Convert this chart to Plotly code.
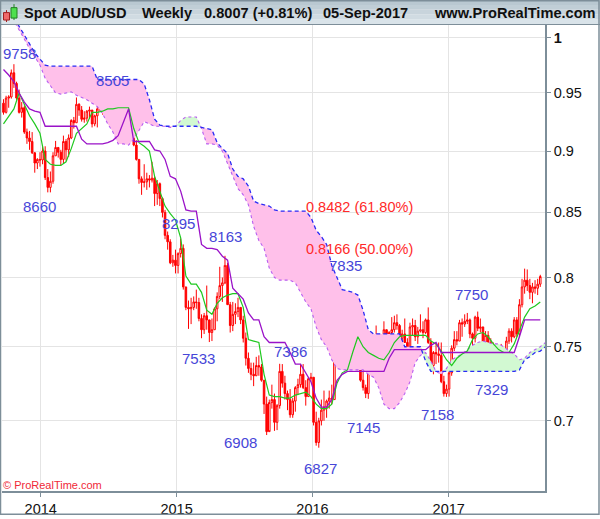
import numpy as np
import pandas as pd
import plotly.graph_objects as go

# ---------------- DATA ----------------
week_start = "2013-09-23"
opens = [0.9410,0.9330,0.9455,0.9465,0.9680,0.9585,0.9455,0.9330,0.9370,0.9160,
0.9110,0.9080,0.8985,0.8900,0.8930,0.8925,0.9000,0.8780,0.8700,0.8750,
0.8960,0.9030,0.8990,0.8930,0.9080,0.9010,0.9110,0.9260,0.9240,0.9400,
0.9350,0.9270,0.9280,0.9340,0.9350,0.9230,0.9300,0.9360,0.9410,0.9400,
0.9430,0.9340,0.9380,0.9370,0.9390,0.9300,0.9290,0.9320,0.9280,0.9340,
0.9390,0.9050,0.8930,0.8770,0.8740,0.8745,0.8770,0.8760,0.8775,0.8650,
0.8730,0.8610,0.8500,0.8320,0.8270,0.8110,0.8130,0.8090,0.8180,0.8220,
0.7930,0.7780,0.7770,0.7780,0.7820,0.7815,0.7700,0.7620,0.7720,0.7690,
0.7600,0.7620,0.7770,0.7860,0.7940,0.7960,0.8090,0.7800,0.7650,0.7730,
0.7750,0.7780,0.7690,0.7560,0.7420,0.7350,0.7310,0.7300,0.7370,0.7360,
0.7270,0.7110,0.6930,0.7120,0.7140,0.6990,0.7100,0.7330,0.7250,0.7180,
0.7140,0.7040,0.7130,0.7220,0.7240,0.7310,0.7220,0.7160,0.7280,0.7290,
0.6990,0.6860,0.7000,0.7070,0.7090,0.7130,0.7150,0.7140,0.7420,0.7520,
0.7620,0.7490,0.7660,0.7540,0.7690,0.7720,0.7650,0.7380,0.7270,0.7220,
0.7180,0.7380,0.7390,0.7420,0.7380,0.7480,0.7570,0.7620,0.7460,0.7600,
0.7620,0.7670,0.7650,0.7560,0.7590,0.7530,0.7490,0.7640,0.7650,0.7570,
0.7610,0.7620,0.7600,0.7690,0.7530,0.7370,0.7460,0.7450,0.7440,0.7260,
0.7180,0.7210,0.7320,0.7490,0.7550,0.7540,0.7670,0.7660,0.7680,0.7690,
0.7590,0.7560,0.7710,0.7630,0.7640,0.7510,0.7580,0.7530,0.7470,0.7410,
0.7380,0.7460,0.7470,0.7440,0.7540,0.7610,0.7570,0.7690,0.7590,0.7800,
0.7930,0.7980,0.7940,0.7890,0.7930,0.7920,0.7950]
highs = [0.9445,0.9475,0.9480,0.9710,0.9758,0.9600,0.9530,0.9420,0.9390,0.9190,
0.9170,0.9160,0.8990,0.8940,0.8990,0.9040,0.9040,0.8850,0.8830,0.8990,
0.9085,0.9030,0.9010,0.9130,0.9100,0.9140,0.9270,0.9290,0.9460,0.9410,
0.9385,0.9340,0.9350,0.9380,0.9350,0.9310,0.9380,0.9440,0.9410,0.9445,
0.9505,0.9400,0.9420,0.9420,0.9400,0.9320,0.9370,0.9330,0.9360,0.9400,
0.9390,0.9090,0.8930,0.8790,0.8890,0.8820,0.8800,0.8910,0.8790,0.8760,
0.8740,0.8620,0.8520,0.8350,0.8290,0.8170,0.8210,0.8190,0.8295,0.8250,
0.7930,0.7830,0.7850,0.7860,0.7910,0.7850,0.7730,0.7740,0.7940,0.7690,
0.7700,0.7780,0.7890,0.8080,0.8000,0.8163,0.8110,0.7820,0.7820,0.7810,
0.7850,0.7780,0.7720,0.7600,0.7460,0.7390,0.7390,0.7430,0.7440,0.7380,
0.7270,0.7160,0.7140,0.7240,0.7180,0.7110,0.7382,0.7380,0.7300,0.7200,
0.7210,0.7150,0.7230,0.7280,0.7380,0.7380,0.7270,0.7290,0.7320,0.7290,
0.7060,0.7020,0.7140,0.7200,0.7140,0.7200,0.7240,0.7460,0.7530,0.7680,
0.7640,0.7680,0.7670,0.7720,0.7835,0.7730,0.7670,0.7420,0.7330,0.7240,
0.7380,0.7500,0.7450,0.7650,0.7520,0.7580,0.7680,0.7620,0.7610,0.7710,
0.7720,0.7730,0.7660,0.7620,0.7700,0.7560,0.7670,0.7700,0.7690,0.7640,
0.7730,0.7680,0.7700,0.7780,0.7560,0.7470,0.7520,0.7530,0.7530,0.7300,
0.7240,0.7340,0.7510,0.7610,0.7610,0.7690,0.7700,0.7730,0.7740,0.7700,
0.7600,0.7720,0.7750,0.7700,0.7640,0.7610,0.7610,0.7560,0.7530,0.7420,
0.7470,0.7520,0.7480,0.7570,0.7630,0.7630,0.7710,0.7710,0.7840,0.7990,
0.8066,0.8060,0.7990,0.7960,0.7980,0.7990,0.8020]
lows = [0.9310,0.9320,0.9370,0.9450,0.9545,0.9440,0.9320,0.9285,0.9145,0.9060,
0.9010,0.8975,0.8820,0.8850,0.8870,0.8890,0.8760,0.8660,0.8660,0.8730,
0.8960,0.8945,0.8880,0.8900,0.8920,0.8950,0.9100,0.9190,0.9240,0.9300,
0.9250,0.9240,0.9250,0.9275,0.9200,0.9210,0.9200,0.9340,0.9310,0.9370,
0.9330,0.9320,0.9290,0.9340,0.9290,0.9240,0.9260,0.9260,0.9280,0.9310,
0.9040,0.8920,0.8730,0.8640,0.8700,0.8680,0.8700,0.8740,0.8550,0.8560,
0.8550,0.8460,0.8290,0.8210,0.8100,0.8080,0.8030,0.8030,0.8150,0.7910,
0.7760,0.7626,0.7660,0.7760,0.7770,0.7680,0.7560,0.7590,0.7620,0.7533,
0.7540,0.7620,0.7680,0.7840,0.7820,0.7950,0.7800,0.7600,0.7610,0.7660,
0.7710,0.7660,0.7530,0.7370,0.7320,0.7270,0.7230,0.7300,0.7300,0.7260,
0.7045,0.6908,0.6940,0.7080,0.6935,0.6940,0.7080,0.7220,0.7140,0.7070,
0.7020,0.7020,0.7060,0.7170,0.7220,0.7210,0.7100,0.7160,0.7260,0.6970,
0.6840,0.6827,0.6970,0.7000,0.7020,0.7080,0.7110,0.7140,0.7380,0.7490,
0.7480,0.7480,0.7490,0.7520,0.7640,0.7530,0.7370,0.7260,0.7200,0.7150,
0.7145,0.7370,0.7300,0.7300,0.7330,0.7390,0.7560,0.7450,0.7410,0.7570,
0.7600,0.7620,0.7530,0.7490,0.7530,0.7440,0.7490,0.7580,0.7540,0.7520,
0.7600,0.7560,0.7590,0.7520,0.7360,0.7310,0.7380,0.7390,0.7250,0.7160,
0.7158,0.7160,0.7300,0.7470,0.7510,0.7540,0.7570,0.7640,0.7660,0.7560,
0.7490,0.7530,0.7610,0.7600,0.7500,0.7490,0.7490,0.7460,0.7390,0.7329,
0.7370,0.7440,0.7370,0.7440,0.7520,0.7530,0.7560,0.7570,0.7570,0.7780,
0.7880,0.7900,0.7840,0.7810,0.7880,0.7870,0.7930]
closes = [0.9330,0.9455,0.9465,0.9680,0.9585,0.9455,0.9330,0.9370,0.9160,0.9110,
0.9080,0.8985,0.8900,0.8930,0.8925,0.9000,0.8780,0.8700,0.8750,0.8960,
0.9030,0.8990,0.8930,0.9080,0.9010,0.9110,0.9260,0.9240,0.9400,0.9350,
0.9270,0.9280,0.9340,0.9350,0.9230,0.9300,0.9360,0.9410,0.9400,0.9430,
0.9340,0.9380,0.9370,0.9390,0.9300,0.9290,0.9320,0.9280,0.9340,0.9390,
0.9050,0.8930,0.8770,0.8740,0.8745,0.8770,0.8760,0.8775,0.8650,0.8730,
0.8610,0.8500,0.8320,0.8270,0.8110,0.8130,0.8090,0.8180,0.8220,0.7930,
0.7780,0.7770,0.7780,0.7820,0.7815,0.7700,0.7620,0.7720,0.7690,0.7600,
0.7620,0.7770,0.7860,0.7940,0.7960,0.8090,0.7800,0.7650,0.7730,0.7750,
0.7780,0.7690,0.7560,0.7420,0.7350,0.7310,0.7300,0.7370,0.7360,0.7270,
0.7110,0.6930,0.7120,0.7140,0.6990,0.7100,0.7330,0.7250,0.7180,0.7140,
0.7040,0.7130,0.7220,0.7240,0.7310,0.7220,0.7160,0.7280,0.7290,0.6990,
0.6860,0.7000,0.7070,0.7090,0.7130,0.7150,0.7140,0.7420,0.7520,0.7620,
0.7490,0.7660,0.7540,0.7690,0.7720,0.7650,0.7380,0.7270,0.7220,0.7180,
0.7380,0.7390,0.7420,0.7380,0.7480,0.7570,0.7620,0.7460,0.7600,0.7620,
0.7670,0.7650,0.7560,0.7590,0.7530,0.7490,0.7640,0.7650,0.7570,0.7610,
0.7620,0.7600,0.7690,0.7530,0.7370,0.7460,0.7450,0.7440,0.7260,0.7180,
0.7210,0.7320,0.7490,0.7550,0.7540,0.7670,0.7660,0.7680,0.7690,0.7590,
0.7560,0.7710,0.7630,0.7640,0.7510,0.7580,0.7530,0.7470,0.7410,0.7380,
0.7460,0.7470,0.7440,0.7540,0.7610,0.7570,0.7690,0.7590,0.7800,0.7930,
0.7980,0.7940,0.7890,0.7930,0.7920,0.7950,0.8007]

# Ichimoku lines, sampled every two weeks from week_start
tenkan = [0.923,0.929,0.936,0.950,0.940,0.930,0.923,0.915,0.893,0.889,
0.888,0.888,0.891,0.902,0.915,0.919,0.923,0.933,0.933,0.934,
0.936,0.936,0.937,0.937,0.937,0.919,0.907,0.904,0.900,0.879,
0.867,0.855,0.849,0.844,0.830,0.801,0.795,0.795,0.789,0.776,
0.773,0.781,0.785,0.787,0.788,0.788,0.778,0.755,0.754,0.753,
0.731,0.717,0.716,0.716,0.715,0.715,0.717,0.718,0.719,0.716,
0.711,0.708,0.708,0.711,0.725,0.732,0.734,0.746,0.757,0.750,
0.746,0.744,0.742,0.741,0.746,0.753,0.757,0.758,0.758,0.758,
0.758,0.758,0.754,0.752,0.747,0.741,0.737,0.742,0.745,0.747,
0.755,0.759,0.760,0.757,0.752,0.748,0.746,0.746,0.752,0.761,
0.771,0.777,0.779,0.782]
kijun = [0.971,0.966,0.960,0.950,0.942,0.936,0.934,0.933,0.921,0.921,
0.921,0.921,0.921,0.921,0.921,0.910,0.906,0.906,0.906,0.906,
0.907,0.909,0.913,0.924,0.936,0.908,0.908,0.908,0.908,0.901,
0.900,0.893,0.879,0.877,0.867,0.852,0.851,0.851,0.825,0.822,
0.822,0.821,0.816,0.813,0.792,0.788,0.784,0.774,0.769,0.769,
0.757,0.753,0.753,0.753,0.753,0.746,0.738,0.738,0.732,0.726,
0.715,0.709,0.709,0.714,0.727,0.731,0.733,0.733,0.733,0.733,
0.733,0.733,0.733,0.733,0.742,0.748,0.748,0.748,0.748,0.748,
0.748,0.748,0.751,0.753,0.746,0.746,0.746,0.746,0.746,0.746,
0.746,0.746,0.746,0.746,0.746,0.746,0.746,0.746,0.746,0.757,
0.769,0.769,0.769,0.769]
span_a = [1.034,1.024,1.016,1.008,0.999,0.990,0.9825,0.975,0.963,0.956,
0.950,0.949,0.950,0.951,0.948,0.946,0.944,0.941,0.938,0.932,
0.923,0.916,0.906,0.906,0.905,0.910,0.918,0.925,0.923,0.921,
0.921,0.921,0.920,0.921,0.926,0.929,0.929,0.929,0.919,0.906,
0.906,0.905,0.900,0.889,0.879,0.869,0.864,0.856,0.839,0.828,
0.822,0.807,0.800,0.798,0.798,0.798,0.796,0.789,0.782,0.777,
0.764,0.755,0.750,0.741,0.735,0.734,0.734,0.734,0.734,0.734,
0.731,0.729,0.722,0.711,0.708,0.708,0.712,0.718,0.726,0.739,
0.744,0.746,0.740,0.733,0.731,0.735,0.741,0.743,0.745,0.748,
0.751,0.753,0.754,0.753,0.752,0.752,0.750,0.747,0.745,0.741,
0.742,0.746,0.748,0.750,0.753]
span_b = [1.036,1.026,1.019,1.011,1.003,0.9945,0.986,0.980,0.975,0.974,
0.974,0.974,0.974,0.974,0.974,0.974,0.974,0.974,0.962,0.962,
0.962,0.962,0.962,0.962,0.962,0.962,0.962,0.958,0.944,0.927,
0.922,0.921,0.921,0.921,0.921,0.921,0.921,0.921,0.920,0.919,
0.918,0.907,0.902,0.898,0.885,0.879,0.877,0.871,0.859,0.857,
0.856,0.855,0.852,0.851,0.851,0.851,0.851,0.851,0.851,0.846,
0.836,0.831,0.825,0.809,0.800,0.791,0.790,0.789,0.787,0.776,
0.762,0.759,0.759,0.759,0.759,0.759,0.759,0.750,0.750,0.750,
0.750,0.740,0.733,0.733,0.733,0.733,0.733,0.733,0.733,0.733,
0.733,0.733,0.733,0.733,0.733,0.733,0.733,0.733,0.733,0.734,
0.741,0.743,0.746,0.747,0.750]

# Fibonacci retracement
fib_start = "2015-12-17"
fib_levels = [0.8482, 0.8166]
fib_texts = ["0.8482 (61.80%)", "0.8166 (50.00%)"]
fib_text_prices = [0.8539, 0.8215]

# swing labels (text, anchor date, anchor price)
swing_texts = ["9758", "8505", "8660", "8295", "8163", "7533", "7386", "6908",
               "6827", "7145", "7158", "7329", "7750", "7835"]
swing_dates = ["2013-11-04", "2014-07-12", "2013-12-30", "2015-01-07", "2015-05-12",
               "2015-03-02", "2015-11-04", "2015-06-22", "2016-01-23", "2016-05-17",
               "2016-12-01", "2017-04-27", "2017-03-02", "2016-03-29"]
swing_prices = [0.9853, 0.9615, 0.8547, 0.8410, 0.8314, 0.7421, 0.7470, 0.6858,
                0.6698, 0.6957, 0.7044, 0.7208, 0.7877, 0.8090]

y_ticks = [0.7, 0.75, 0.8, 0.85, 0.9, 0.95, 1.0]
y_tick_text = ["0.7", "0.75", "0.8", "0.85", "0.9", "0.95", "<b>1</b>"]
x_ticks = ["2014-01-01", "2015-01-01", "2016-01-01", "2017-01-01"]
x_tick_text = ["2014", "2015", "2016", "2017"]

title_parts = ["Spot AUD/USD", "Weekly", "0.8007 (+0.81%)", "05-Sep-2017", "www.ProRealTime.com"]

# ---------------- FIGURE ----------------
W, H = 600, 519
ML, MR, MT, MB = 2, 55, 25, 24
PW, PH = W - ML - MR, H - MT - MB


def pxx(px):
    return (px - ML) / PW


def pxy(py):
    return (H - MB - py) / PH


dates = pd.date_range(week_start, periods=len(closes), freq="7D")
ind_dates = pd.date_range(week_start, periods=len(span_a), freq="14D")
tk_dates = ind_dates[:len(tenkan)]
cloud_top = np.maximum(np.array(span_a), np.array(span_b))

FONT = "Liberation Sans, Arial, sans-serif"
PINK = "#ffc0ea"
GREENF = "#d2f9d2"

fig = go.Figure()
# bearish cloud (span B above span A)
fig.add_trace(go.Scatter(x=ind_dates, y=span_a, mode="lines", line=dict(width=0),
                         hoverinfo="skip", showlegend=False))
fig.add_trace(go.Scatter(x=ind_dates, y=cloud_top, mode="lines", line=dict(width=0),
                         fill="tonexty", fillcolor=PINK, hoverinfo="skip", showlegend=False))
# bullish cloud (span A above span B)
fig.add_trace(go.Scatter(x=ind_dates, y=span_b, mode="lines", line=dict(width=0),
                         hoverinfo="skip", showlegend=False))
fig.add_trace(go.Scatter(x=ind_dates, y=cloud_top, mode="lines", line=dict(width=0),
                         fill="tonexty", fillcolor=GREENF, hoverinfo="skip", showlegend=False))
# span lines
fig.add_trace(go.Scatter(x=ind_dates, y=span_a, mode="lines",
                         line=dict(color="#b85ef0", width=1.1, dash="3px,3px"), showlegend=False))
fig.add_trace(go.Scatter(x=ind_dates, y=span_b, mode="lines",
                         line=dict(color="#2a2af5", width=1.3, dash="4px,3px"), showlegend=False))

# candles
fig.add_trace(go.Candlestick(
    x=dates, open=opens, high=highs, low=lows, close=closes,
    increasing=dict(line=dict(color="#ff0000", width=1), fillcolor="#ffffff"),
    decreasing=dict(line=dict(color="#ff0000", width=1), fillcolor="#ff0000"),
    whiskerwidth=0, showlegend=False))

# tenkan / kijun
fig.add_trace(go.Scatter(x=tk_dates, y=tenkan, mode="lines",
                         line=dict(color="#1fc81f", width=1.2), showlegend=False))
fig.add_trace(go.Scatter(x=tk_dates, y=kijun, mode="lines",
                         line=dict(color="#9a12c8", width=1.3), showlegend=False))

shapes = []
annotations = []

x_end = "2017-09-16 17:00"
# Fibonacci lines + texts
for lvl, txt, tp in zip(fib_levels, fib_texts, fib_text_prices):
    shapes.append(dict(type="line", xref="x", yref="y", x0=fib_start, x1=x_end,
                       y0=np.log10(lvl), y1=np.log10(lvl),
                       line=dict(color="#8a10c8", width=1, dash="4px,3px")))
    annotations.append(dict(x=fib_start, y=np.log10(tp), xref="x", yref="y", text=txt,
                            showarrow=False, xanchor="left", yanchor="middle", xshift=-3,
                            font=dict(family=FONT, size=14.5, color="#ff2a2a")))

for t, d, p in zip(swing_texts, swing_dates, swing_prices):
    annotations.append(dict(x=d, y=np.log10(p), xref="x", yref="y", text=t, showarrow=False,
                            xanchor="center", yanchor="middle",
                            font=dict(family=FONT, size=15, color="#4646d8")))

# title bar (gradient stripes)
grad = ["#d9e3e9", "#d0dbe2", "#c8d4dc", "#c0ced6", "#b9c8d1"]
for i, c in enumerate(grad):
    shapes.append(dict(type="rect", xref="paper", yref="paper", layer="above",
                       x0=pxx(0), x1=pxx(W), y0=pxy(24 - i * 24 / len(grad) - 24 / len(grad)),
                       y1=pxy(24 - i * 24 / len(grad)), line=dict(width=0), fillcolor=c))
shapes.append(dict(type="line", xref="paper", yref="paper", layer="above",
                   x0=pxx(0), x1=pxx(W), y0=pxy(24.5), y1=pxy(24.5),
                   line=dict(color="#7d8e99", width=1)))
# outer frame
shapes.append(dict(type="rect", xref="paper", yref="paper", layer="above",
                   x0=pxx(0.5), x1=pxx(599), y0=pxy(518.5), y1=pxy(0.5),
                   line=dict(color="#7d8e99", width=1.5), fillcolor="rgba(0,0,0,0)"))
# small candle icon in the title bar
shapes += [
    dict(type="line", xref="paper", yref="paper", layer="above", x0=pxx(6.5), x1=pxx(6.5),
         y0=pxy(22), y1=pxy(10), line=dict(color="#a02020", width=1)),
    dict(type="rect", xref="paper", yref="paper", layer="above", x0=pxx(3.5), x1=pxx(9.5),
         y0=pxy(20), y1=pxy(12.5), line=dict(color="#a02020", width=1), fillcolor="#f06a6a"),
    dict(type="line", xref="paper", yref="paper", layer="above", x0=pxx(14), x1=pxx(14),
         y0=pxy(20), y1=pxy(4), line=dict(color="#208020", width=1)),
    dict(type="rect", xref="paper", yref="paper", layer="above", x0=pxx(11), x1=pxx(17),
         y0=pxy(18), y1=pxy(7.5), line=dict(color="#208020", width=1), fillcolor="#4ee04e"),
]

title_x = [22, 140, 202, 321, 432]
for t, xp in zip(title_parts, title_x):
    annotations.append(dict(x=pxx(xp), y=pxy(12.5), xref="paper", yref="paper", text="<b>%s</b>" % t,
                            showarrow=False, xanchor="left", yanchor="middle",
                            font=dict(family=FONT, size=14.6, color="#101010")))

annotations.append(dict(x=pxx(1), y=pxy(489), xref="paper", yref="paper",
                        text="\u00a9 ProRealTime.com", showarrow=False, xanchor="left",
                        yanchor="middle", font=dict(family=FONT, size=11, color="#f02838")))

fig.update_layout(
    width=W, height=H, margin=dict(l=ML, r=MR, t=MT, b=MB),
    paper_bgcolor="white", plot_bgcolor="white", showlegend=False,
    shapes=shapes, annotations=annotations, hovermode=False, boxgap=0.15,
    xaxis=dict(type="date", range=["2013-09-19", x_end], rangeslider=dict(visible=False),
               tickmode="array", tickvals=x_ticks, ticktext=x_tick_text,
               showgrid=True, gridcolor="#e4e4e4", gridwidth=1, zeroline=False,
               ticks="outside", ticklen=4, tickcolor="#7d8e99",
               showline=True, linecolor="#7d8e99", linewidth=1.5,
               tickfont=dict(family=FONT, size=14.5, color="#111111")),
    yaxis=dict(type="log", side="right", range=[np.log10(0.65572), np.log10(1.01208)],
               tickmode="array", tickvals=y_ticks, ticktext=y_tick_text,
               showgrid=True, gridcolor="#e4e4e4", gridwidth=1, zeroline=False,
               ticks="outside", ticklen=4, tickcolor="#7d8e99",
               showline=True, linecolor="#7d8e99", linewidth=1.5,
               tickfont=dict(family=FONT, size=14.5, color="#111111")),
)

fig.write_html("out.html", config={"displayModeBar": False},
               post_script="document.body.style.margin='0';document.body.style.overflow='hidden';")
